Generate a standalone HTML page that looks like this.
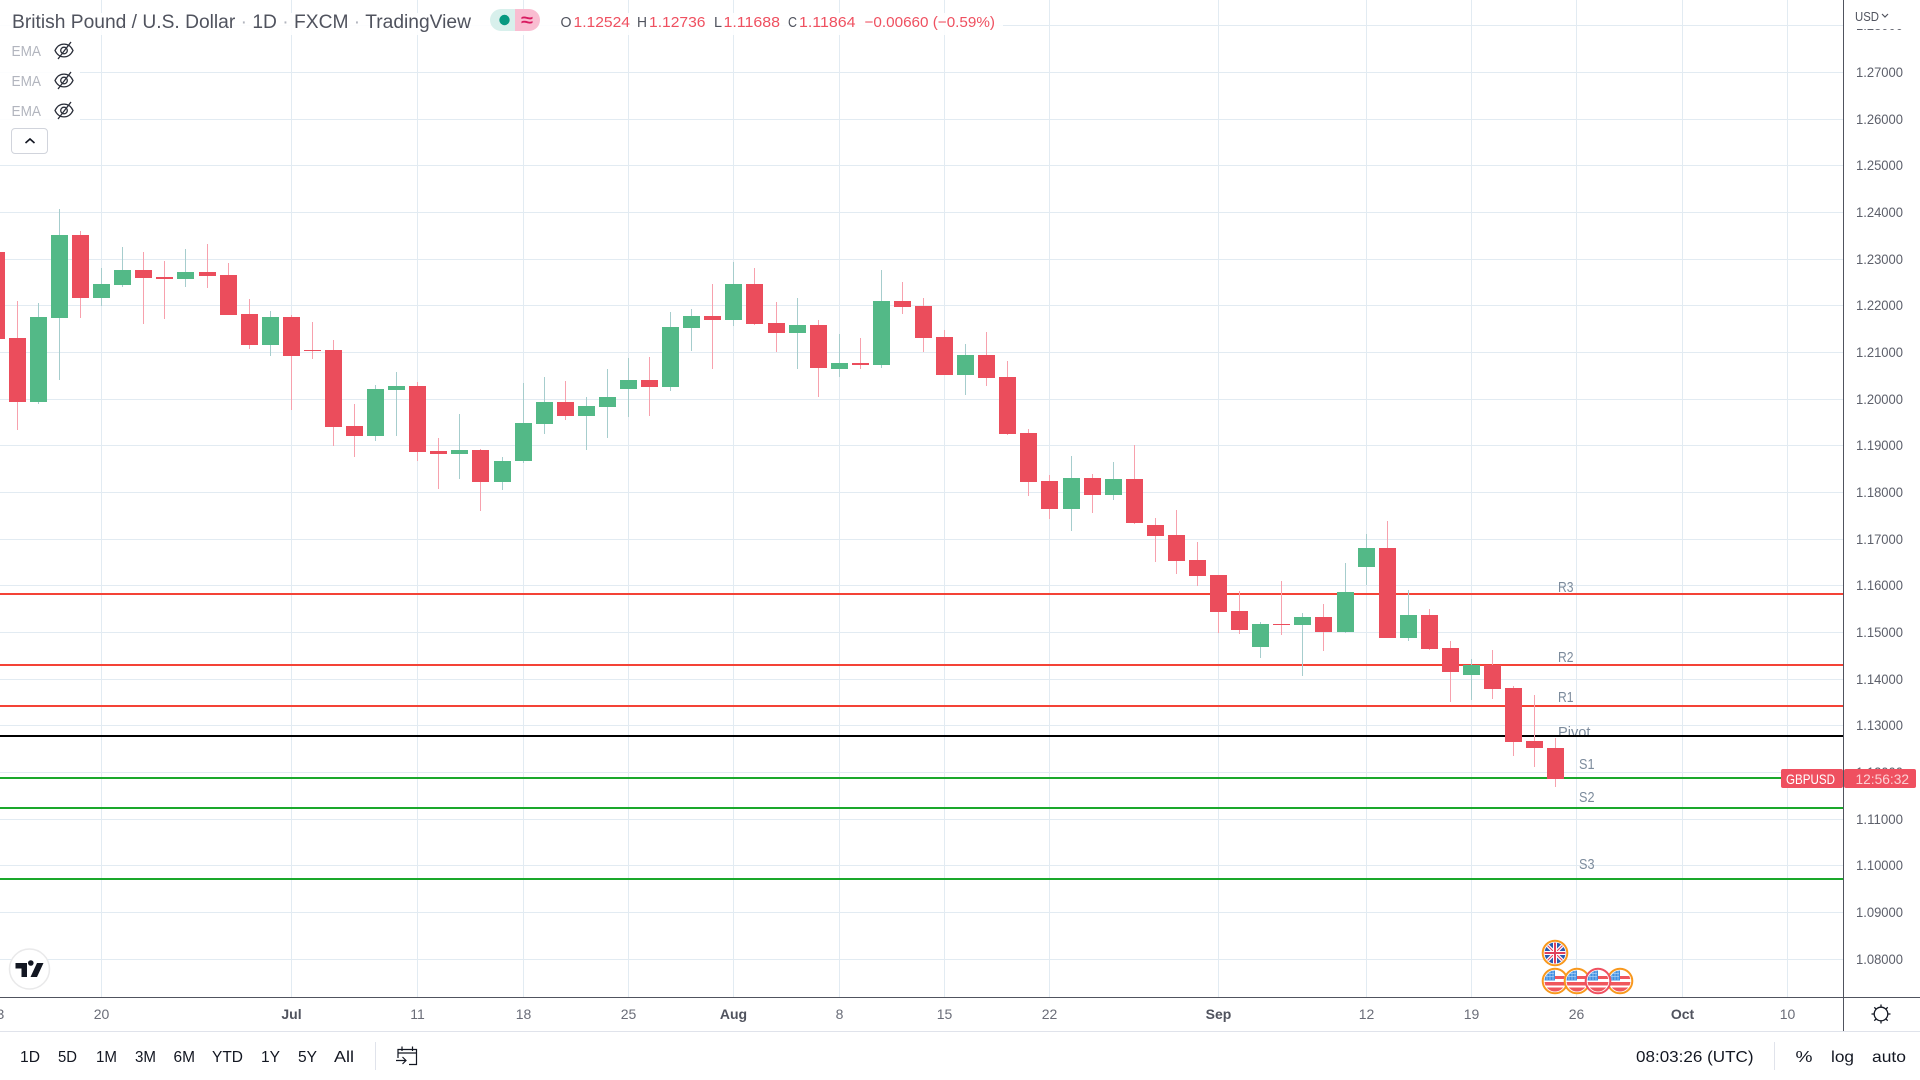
<!DOCTYPE html>
<html lang="en">
<head>
<meta charset="utf-8">
<title>GBPUSD daily chart</title>
<style>
html,body{margin:0;padding:0;background:#fff;width:1920px;height:1080px;overflow:hidden}
svg{display:block;font-family:"Liberation Sans",sans-serif}
text{white-space:pre}
</style>
</head>
<body>
<svg id="chart" xmlns="http://www.w3.org/2000/svg" width="1920" height="1080" viewBox="0 0 1920 1080">
  <defs>
    <clipPath id="flagClip"><circle cx="0" cy="0" r="10.500"/></clipPath>
    <g id="usFlag">
      <circle r="12.300" fill="#fff"/>
      <g clip-path="url(#flagClip)">
        <rect x="-12" y="-12" width="24" height="24" fill="#fff"/>
        <rect x="-12" y="-5" width="24" height="3" fill="#f0565c"/>
        <rect x="-12" y="1" width="24" height="3.500" fill="#f0565c"/>
        <rect x="-12" y="6.500" width="24" height="5" fill="#f0565c"/>
        <rect x="-12" y="-12" width="12" height="11.500" fill="#3f8fe0"/>
        <path d="M-9-7.500h8M-9-4.500h8M-8-11v10M-5-11v10M-2-11v10" stroke="#a9cff5" stroke-width=".7" fill="none"/>
      </g>
    </g>
    <g id="ukFlag">
      <circle r="12.300" fill="#fff"/>
      <g clip-path="url(#flagClip)">
        <rect x="-12" y="-12" width="24" height="24" fill="#2a5bb0"/>
        <path d="M-12-12L12 12M12-12L-12 12" stroke="#fff" stroke-width="3.500"/>
        <path d="M-12-12L12 12M12-12L-12 12" stroke="#e0415a" stroke-width="1"/>
        <path d="M0-12V12M-12 0H12" stroke="#fff" stroke-width="4"/>
        <path d="M0-12V12M-12 0H12" stroke="#e0415a" stroke-width="2"/>
      </g>
    </g>
  </defs>

  <rect x="0" y="0" width="1920" height="1080" fill="#ffffff"/>
  <g id="gridLayer"></g>
  <g id="levelLabelLayer"></g>
  <g id="levelLayer"></g>
  <g id="candleLayer"></g>

  <g>
    <g transform="translate(1555 953)"><use href="#ukFlag"/><circle r="12.300" fill="none" stroke="#f8981d" stroke-width="2"/></g>
    <g transform="translate(1555 981)"><use href="#usFlag"/><circle r="12.300" fill="none" stroke="#f8981d" stroke-width="2"/></g>
    <g transform="translate(1577 981)"><use href="#usFlag"/><circle r="12.300" fill="none" stroke="#f8981d" stroke-width="2"/></g>
    <g transform="translate(1620 981)"><use href="#usFlag"/><circle r="12.300" fill="none" stroke="#f8981d" stroke-width="2"/></g>
    <g transform="translate(1598 981)"><use href="#usFlag"/><circle r="12.300" fill="none" stroke="#ef5060" stroke-width="2"/></g>
  </g>

  <g>
    <circle cx="29.500" cy="969" r="20" fill="#fff" stroke="#e9e9ea" stroke-width="1.500"/>
    <path d="M15.500 963H27V977H21.500V968.500H15.500Z M28 963a2.800 2.800 0 1 0 5.600 0a2.800 2.800 0 1 0-5.600 0 M37 963H43.500L37 977H30.500Z" fill="#131722"/>
  </g>

  <!-- legend -->
  <rect x="0" y="13" width="1003" height="22" fill="#fff" fill-opacity=".9"/>
  <rect x="0" y="35" width="80" height="90" fill="#fff" fill-opacity=".9"/>
  <text x="12" y="28" font-size="19" textLength="459" lengthAdjust="spacingAndGlyphs" fill="#50535e">British Pound / U.S. Dollar <tspan fill="#b2b5be">·</tspan> 1D <tspan fill="#b2b5be">·</tspan> FXCM <tspan fill="#b2b5be">·</tspan> TradingView</text>

  <g>
    <path d="M515 9H501a11 11 0 0 0 0 22H515Z" fill="#d8f0ec"/>
    <path d="M515 9H529a11 11 0 0 1 0 22H515Z" fill="#f9bdd1"/>
    <circle cx="504.500" cy="20" r="5.200" fill="#089981"/>
    <text x="521" y="26" font-size="18" font-weight="bold" fill="#d81b60" textLength="12" lengthAdjust="spacingAndGlyphs">≈</text>
  </g>

  <g font-size="15">
    <text x="560.500" y="27" fill="#50535e" textLength="11" lengthAdjust="spacingAndGlyphs">O</text>
    <text x="573.500" y="27" fill="#ef5060" textLength="56.500" lengthAdjust="spacingAndGlyphs">1.12524</text>
    <text x="637" y="27" fill="#50535e" textLength="10" lengthAdjust="spacingAndGlyphs">H</text>
    <text x="649" y="27" fill="#ef5060" textLength="56.500" lengthAdjust="spacingAndGlyphs">1.12736</text>
    <text x="714" y="27" fill="#50535e" textLength="8" lengthAdjust="spacingAndGlyphs">L</text>
    <text x="723.500" y="27" fill="#ef5060" textLength="56.500" lengthAdjust="spacingAndGlyphs">1.11688</text>
    <text x="788" y="27" fill="#50535e" textLength="9" lengthAdjust="spacingAndGlyphs">C</text>
    <text x="799" y="27" fill="#ef5060" textLength="56.500" lengthAdjust="spacingAndGlyphs">1.11864</text>
    <text x="864.500" y="27" fill="#ef5060" textLength="130.500" lengthAdjust="spacingAndGlyphs">−0.00660 (−0.59%)</text>
  </g>

  <g>
    <text x="11.500" y="56" font-size="15" fill="#b2b5be" textLength="29.500" lengthAdjust="spacingAndGlyphs">EMA</text>
    <g transform="translate(64 50.500)" fill="none" stroke="#2a2e39" stroke-width="1.300"><path d="M-9 0C-5-8.500 5-8.500 9 0C5 8.500-5 8.500-9 0Z"/><circle r="3.300"/><path d="M-6 8.500L7-8.500"/></g>
  </g>
  <g>
    <text x="11.500" y="86" font-size="15" fill="#b2b5be" textLength="29.500" lengthAdjust="spacingAndGlyphs">EMA</text>
    <g transform="translate(64 80.500)" fill="none" stroke="#2a2e39" stroke-width="1.300"><path d="M-9 0C-5-8.500 5-8.500 9 0C5 8.500-5 8.500-9 0Z"/><circle r="3.300"/><path d="M-6 8.500L7-8.500"/></g>
  </g>
  <g>
    <text x="11.500" y="116" font-size="15" fill="#b2b5be" textLength="29.500" lengthAdjust="spacingAndGlyphs">EMA</text>
    <g transform="translate(64 110.500)" fill="none" stroke="#2a2e39" stroke-width="1.300"><path d="M-9 0C-5-8.500 5-8.500 9 0C5 8.500-5 8.500-9 0Z"/><circle r="3.300"/><path d="M-6 8.500L7-8.500"/></g>
  </g>
  <g>
    <rect x="11.500" y="128.500" width="36" height="25" rx="3.500" fill="#fff" stroke="#d1d4dc"/>
    <path d="M25.500 143L30 139L34.500 143" fill="none" stroke="#131722" stroke-width="1.600"/>
  </g>

  <!-- axes -->
  <rect x="1844" y="0" width="76" height="997" fill="#fff"/>
  <rect x="0" y="998" width="1920" height="33" fill="#fff"/>
  <g id="priceTickLayer"></g>
  <g id="timeTickLayer"></g>
  <rect x="1844" y="0" width="76" height="29" fill="#fff"/>
  <rect x="1843" y="0" width="1" height="1031" fill="#50535e"/>
  <rect x="0" y="997" width="1920" height="1" fill="#50535e"/>
  <rect x="0" y="1031" width="1920" height="1" fill="#e0e3eb"/>

  <g>
    <text x="1855" y="21" font-size="13" fill="#50535e" textLength="24" lengthAdjust="spacingAndGlyphs">USD</text>
    <path d="M1882 14L1885 17L1888 14" fill="none" stroke="#50535e" stroke-width="1.200"/>
  </g>

  <g id="lastPriceTags">
    <rect x="1781" y="769" width="62" height="19" rx="2" fill="#ef5060"/>
    <text x="1786" y="784" font-size="14" fill="#fff" textLength="49" lengthAdjust="spacingAndGlyphs">GBPUSD</text>
    <rect x="1844" y="769" width="72" height="19" rx="2" fill="#ef5060"/>
    <text x="1855.500" y="784" font-size="14" fill="#fbd0d4" textLength="53.500" lengthAdjust="spacingAndGlyphs">12:56:32</text>
  </g>

  <g transform="translate(1881 1014)" fill="none" stroke="#131722" stroke-width="1.300">
    <circle r="6.800"/>
    <path d="M0-9.500V-7M0 7V9.500M-9.500 0H-7M7 0H9.500M-6.700-6.700L-5-5M5 5L6.700 6.700M-6.700 6.700L-5 5M5-5L6.700-6.700"/>
  </g>

  <!-- bottom toolbar -->
  <g font-size="16" fill="#131722">
    <text x="20" y="1062" textLength="20" lengthAdjust="spacingAndGlyphs">1D</text>
    <text x="58" y="1062" textLength="19" lengthAdjust="spacingAndGlyphs">5D</text>
    <text x="96" y="1062" textLength="21" lengthAdjust="spacingAndGlyphs">1M</text>
    <text x="135" y="1062" textLength="21" lengthAdjust="spacingAndGlyphs">3M</text>
    <text x="173.500" y="1062" textLength="21.500" lengthAdjust="spacingAndGlyphs">6M</text>
    <text x="212" y="1062" textLength="31" lengthAdjust="spacingAndGlyphs">YTD</text>
    <text x="261" y="1062" textLength="19" lengthAdjust="spacingAndGlyphs">1Y</text>
    <text x="298" y="1062" textLength="19" lengthAdjust="spacingAndGlyphs">5Y</text>
    <text x="334" y="1062" textLength="20" lengthAdjust="spacingAndGlyphs">All</text>
  </g>
  <rect x="375" y="1042" width="1" height="28" fill="#e0e3eb"/>
  <g fill="none" stroke="#131722" stroke-width="1.200">
    <path d="M398 1058V1049.500H416.500V1064.500H409"/>
    <path d="M398 1053H416.500M402 1046.500V1051M412.500 1046.500V1051"/>
    <path d="M396 1060.500H406M402.500 1057L406 1060.500L402.500 1064"/>
  </g>
  <text x="1636" y="1062" font-size="16" fill="#131722" textLength="117.500" lengthAdjust="spacingAndGlyphs">08:03:26 (UTC)</text>
  <rect x="1774" y="1042" width="1" height="28" fill="#e0e3eb"/>
  <text x="1795.500" y="1062" font-size="16" fill="#131722" textLength="17" lengthAdjust="spacingAndGlyphs">%</text>
  <text x="1831" y="1062" font-size="16" fill="#131722" textLength="23" lengthAdjust="spacingAndGlyphs">log</text>
  <text x="1872" y="1062" font-size="16" fill="#131722" textLength="34" lengthAdjust="spacingAndGlyphs">auto</text>
</svg>

<script>
const opens = [1.23150,1.21309,1.19938,1.21737,1.23515,1.22165,1.22444,1.22765,1.22615,1.22572,1.22722,1.22658,1.21823,1.21159,1.21759,1.21052,1.21052,1.19424,1.19210,1.20195,1.20281,1.18889,1.18825,1.18917,1.18232,1.18681,1.19474,1.19945,1.19645,1.19838,1.20223,1.20416,1.20266,1.21529,1.21786,1.21701,1.22472,1.21636,1.21422,1.21594,1.20651,1.20780,1.20737,1.22108,1.22001,1.21337,1.20523,1.20951,1.20480,1.19281,1.18253,1.17653,1.18317,1.17953,1.18296,1.17311,1.17097,1.16557,1.16236,1.15465,1.14694,1.15187,1.15165,1.15337,1.15015,1.16407,1.16814,1.14887,1.15379,1.14673,1.14095,1.14309,1.13816,1.12681,1.12524];
const highs = [1.23150,1.22101,1.22058,1.24071,1.23600,1.22808,1.23258,1.23150,1.22958,1.23215,1.23322,1.22915,1.22144,1.21887,1.21801,1.21651,1.21266,1.19896,1.20302,1.20581,1.20367,1.19167,1.19681,1.18938,1.18767,1.20352,1.20480,1.20394,1.20052,1.20651,1.20887,1.20908,1.21872,1.21936,1.22472,1.22943,1.22814,1.22086,1.22172,1.21701,1.21401,1.21315,1.22771,1.22514,1.22172,1.21487,1.21187,1.21444,1.20823,1.19367,1.18382,1.18788,1.18403,1.18660,1.19024,1.17461,1.17632,1.16943,1.16236,1.15893,1.15229,1.16107,1.15422,1.15615,1.16493,1.17114,1.17392,1.15915,1.15508,1.14823,1.14437,1.14630,1.13859,1.13666,1.12736];
const lows = [1.21287,1.19339,1.19896,1.20409,1.21737,1.21994,1.22401,1.21609,1.21716,1.22401,1.22380,1.21801,1.21073,1.20923,1.19767,1.20859,1.18996,1.18761,1.19103,1.19210,1.18675,1.18075,1.18289,1.17611,1.18060,1.18639,1.19260,1.19559,1.18917,1.19174,1.19624,1.19645,1.20180,1.21037,1.20651,1.21572,1.21594,1.21015,1.20651,1.20052,1.20480,1.20651,1.20673,1.21829,1.21015,1.20523,1.20095,1.20287,1.19238,1.17932,1.17439,1.17182,1.17568,1.17846,1.17332,1.16514,1.16257,1.16000,1.14994,1.14973,1.14459,1.14951,1.14073,1.14608,1.14994,1.16022,1.14887,1.14823,1.14630,1.13516,1.13559,1.13581,1.12360,1.12124,1.11688];
const closes = [1.21287,1.19938,1.21759,1.23515,1.22165,1.22465,1.22765,1.22594,1.22572,1.22722,1.22637,1.21801,1.21159,1.21759,1.20923,1.21030,1.19403,1.19210,1.20217,1.20281,1.18868,1.18825,1.18910,1.18232,1.18681,1.19495,1.19945,1.19645,1.19859,1.20052,1.20416,1.20266,1.21551,1.21786,1.21701,1.22472,1.21615,1.21422,1.21594,1.20673,1.20780,1.20737,1.22108,1.21979,1.21315,1.20523,1.20951,1.20459,1.19260,1.18232,1.17653,1.18317,1.17953,1.18296,1.17354,1.17075,1.16536,1.16215,1.15444,1.15058,1.15187,1.15165,1.15337,1.15015,1.15872,1.16814,1.14887,1.15379,1.14651,1.14159,1.14309,1.13795,1.12660,1.12531,1.11864];

const priceTicks = [1.28,1.27,1.26,1.25,1.24,1.23,1.22,1.21,1.20,1.19,1.18,1.17,1.16,1.15,1.14,1.13,1.12,1.11,1.10,1.09,1.08];
const timeTickBars = [0,5,14,20,25,30,35,40,45,50,58,65,70,75,80,85];
const timeTickLabels = ['13','20','Jul','11','18','25','Aug','8','15','22','Sep','12','19','26','Oct','10'];

const levelNames = ['R3','R2','R1','Pivot','S1','S2','S3'];
const levelPrices = [1.15829,1.14308,1.13431,1.12788,1.11895,1.11246,1.09726];

const SVGNS = 'http://www.w3.org/2000/svg';
const CHART_RIGHT = 1843;
const CHART_BOTTOM = 997;
const COLOR_UP = '#53b987';
const COLOR_DOWN = '#eb4d5c';
const WICK_UP = '#a6cdcd';
const WICK_DOWN = '#f7a1ad';

function xScale(barIndex) {
  return Math.floor(-3.71 + barIndex * 21.074);
}
function yScale(price) {
  return 72.35 + (1.27 - price) * 4668.5;
}
function make(tag, attrs, parent) {
  const node = document.createElementNS(SVGNS, tag);
  for (const key in attrs) node.setAttribute(key, attrs[key]);
  parent.appendChild(node);
  return node;
}

const gridLayer = document.getElementById('gridLayer');
priceTicks.forEach(function (price) {
  const line = make('rect', { x: 0, y: Math.floor(yScale(price)), width: CHART_RIGHT, height: 1, fill: '#e2ebf2' }, gridLayer);
  
  
});
timeTickBars.forEach(function (bar) {
  if (bar === 0) return;
  const line = make('rect', { x: xScale(bar), y: 0, width: 1, height: CHART_BOTTOM, fill: '#e2ebf2' }, gridLayer);
  
  
});

const levelLabelLayer = document.getElementById('levelLabelLayer');
const levelLayer = document.getElementById('levelLayer');
levelPrices.forEach(function (price, i) {
  const name = levelNames[i];
  const isSupport = name.charAt(0) === 'S';
  const isPivot = name === 'Pivot';
  const y = Math.round(yScale(price));
  const lineColor = isPivot ? '#000000' : (isSupport ? '#1aa82b' : '#f44336');
  const line = make('rect', { x: 0, y: y - 1, width: CHART_RIGHT, height: 2, fill: lineColor }, levelLayer);
  
  

  const labelX = isSupport ? 1579 : 1558;
  const labelLift = isPivot ? -1 : (isSupport ? (name === 'S1' ? 9 : (name === 'S2' ? 6 : 10)) : (name === 'R3' ? 2 : (name === 'R2' ? 3 : 4)));
  const label = make('text', {
    x: labelX,
    y: y - labelLift,
    'font-size': 15,
    fill: '#7c8b9c',
    textLength: isPivot ? 32.5 : 15.5,
    lengthAdjust: 'spacingAndGlyphs'
  }, levelLabelLayer);
  label.textContent = name;
  
  
});

const candleLayer = document.getElementById('candleLayer');
closes.forEach(function (close, i) {
  const open = opens[i];
  const up = close >= open;
  const px = xScale(i);
  const top = Math.round(yScale(Math.max(open, close)));
  const bottom = Math.round(yScale(Math.min(open, close)));
  const wickTop = Math.round(yScale(highs[i]));
  const wickBottom = Math.round(yScale(lows[i]));

  const wick = make('rect', { x: px, y: wickTop, width: 1, height: Math.max(wickBottom - wickTop, 1), fill: up ? WICK_UP : WICK_DOWN }, candleLayer);
  
  

  const body = make('rect', { x: px - 8, y: top, width: 17, height: Math.max(bottom - top, 1), fill: up ? COLOR_UP : COLOR_DOWN }, candleLayer);
  
  
});

const priceTickLayer = document.getElementById('priceTickLayer');
priceTicks.forEach(function (price) {
  const tick = make('text', {
    x: 1856,
    y: Math.floor(yScale(price)) + 5,
    'font-size': 14,
    fill: '#5d606b',
    textLength: 47,
    lengthAdjust: 'spacingAndGlyphs'
  }, priceTickLayer);
  tick.textContent = price.toFixed(5);
  
  
});

const timeTickLayer = document.getElementById('timeTickLayer');
timeTickBars.forEach(function (bar, i) {
  const text = timeTickLabels[i];
  const isMonth = isNaN(Number(text));
  const tick = make('text', {
    x: xScale(bar) + 0.5,
    y: 1019,
    'text-anchor': 'middle',
    'font-size': 14,
    'font-weight': isMonth ? 'bold' : 'normal',
    fill: isMonth ? '#50535e' : '#6a6d78'
  }, timeTickLayer);
  tick.textContent = text;
  
  
});
</script>
</body>
</html>
